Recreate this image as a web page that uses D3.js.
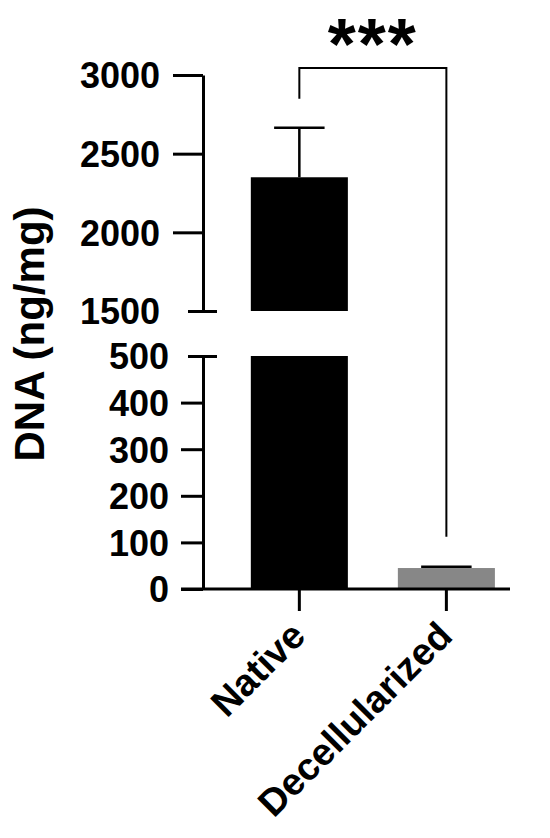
<!DOCTYPE html>
<html>
<head>
<meta charset="utf-8">
<script src="https://cdn.jsdelivr.net/npm/d3@7"></script>
<style>
  body { margin: 0; background: #fff; }
  text { font-family: 'Liberation Sans', Arial, sans-serif; font-weight: bold; }
</style>
</head>
<body>
<script>

var categories = ['Native', 'Decellularized'];
var means = [2350, 45];
var sds = [315, 3];
var barColors = ['#000000', '#878787'];
var topTicks = [1500, 2000, 2500, 3000];
var bottomTicks = [0, 100, 200, 300, 400, 500];
var yTitle = 'DNA (ng/mg)';
var sigLabel = '***';

var width = 550,
    height = 838;

var svg = d3.select('body')
  .append('svg')
  .attr('width', width)
  .attr('height', height);

var axisX = 203;

var x = d3.scaleBand()
  .domain(categories)
  .range([axisX, 510])
  .paddingInner(0.34)
  .paddingOuter(0.214)
  .align(0.76);

// broken axis: two linear pieces
var yTop = d3.scaleLinear().domain([1500, 3000]).range([311, 75]);
var yBot = d3.scaleLinear().domain([0, 500]).range([589, 356]);

function yPos(v) {
  return v > 500 ? yTop(v) : yBot(v);
}

var data = categories.map(function(c, i) {
  return { name: c, mean: means[i], sd: sds[i], color: barColors[i] };
});

// bars
var bars = svg.append('g');
data.forEach(function(d) {
  if (d.mean > 500) {
    bars.append('rect')
      .attr('x', x(d.name))
      .attr('width', x.bandwidth())
      .attr('y', yBot(500))
      .attr('height', yBot(0) - yBot(500))
      .attr('fill', d.color);
    bars.append('rect')
      .attr('x', x(d.name))
      .attr('width', x.bandwidth())
      .attr('y', yTop(d.mean))
      .attr('height', yTop(1500) - yTop(d.mean))
      .attr('fill', d.color);
  } else {
    bars.append('rect')
      .attr('x', x(d.name))
      .attr('width', x.bandwidth())
      .attr('y', yBot(d.mean))
      .attr('height', yBot(0) - yBot(d.mean))
      .attr('fill', d.color);
  }
});

// error bars (upper only)
var capHalf = x.bandwidth() * 0.26;
var err = svg.append('g').attr('stroke', '#000').attr('stroke-width', 2.5);
data.forEach(function(d) {
  var cx = x(d.name) + x.bandwidth() / 2;
  err.append('line')
    .attr('x1', cx).attr('x2', cx)
    .attr('y1', yPos(d.mean)).attr('y2', yPos(d.mean + d.sd));
  err.append('line')
    .attr('x1', cx - capHalf).attr('x2', cx + capHalf)
    .attr('y1', yPos(d.mean + d.sd)).attr('y2', yPos(d.mean + d.sd));
});

// y axes
var fmt = d3.format('d');
var gTop = svg.append('g')
  .attr('transform', 'translate(' + axisX + ',0)')
  .call(d3.axisLeft(yTop).tickValues(topTicks).tickFormat(fmt)
    .tickSize(30).tickSizeOuter(0).tickPadding(13));

var gBot = svg.append('g')
  .attr('transform', 'translate(' + axisX + ',0)')
  .call(d3.axisLeft(yBot).tickValues(bottomTicks).tickFormat(fmt)
    .tickSize(22).tickSizeOuter(0).tickPadding(12));

// break caps
gTop.selectAll('.tick line').filter(function(d) { return d === 1500; })
  .attr('x1', 14).attr('x2', -15);
gBot.selectAll('.tick line').filter(function(d) { return d === 500; })
  .attr('x1', 14).attr('x2', -15);

[gTop, gBot].forEach(function(g) {
  g.select('.domain').attr('stroke-width', 3);
  g.selectAll('.tick line').attr('stroke-width', 3);
  g.selectAll('.tick text')
    .style('font-size', '36px')
    .style('font-weight', 'bold')
    .attr('fill', '#000')
    .attr('dy', '0.36em');
});

// x axis
var gX = svg.append('g')
  .attr('transform', 'translate(0,' + yBot(0) + ')')
  .call(d3.axisBottom(x).tickSize(22).tickSizeOuter(0).tickPadding(0));

gX.select('.domain').remove();
gX.append('line')
  .attr('x1', axisX - 22).attr('x2', x.range()[1])
  .attr('stroke', '#000')
  .attr('stroke-width', 3);
gX.selectAll('.tick line').attr('stroke-width', 3);
gX.selectAll('.tick text')
  .style('font-size', '38px')
  .style('font-weight', 'bold')
  .attr('fill', '#000')
  .attr('text-anchor', 'end')
  .attr('dy', null)
  .attr('y', 0)
  .attr('transform', 'translate(8,49) rotate(-45)');

// y title
svg.append('text')
  .attr('transform', 'translate(44,334) rotate(-90)')
  .attr('text-anchor', 'middle')
  .style('font-size', '42px')
  .text(yTitle);

// significance bracket
var x1 = x(categories[0]) + x.bandwidth() / 2,
    x2 = x(categories[1]) + x.bandwidth() / 2,
    yb = yTop(3045);
svg.append('path')
  .attr('d', 'M' + x1 + ',' + (yPos(means[0] + sds[0]) - 29) +
             'V' + yb + 'H' + x2 + 'V' + (yPos(means[1] + sds[1]) - 30))
  .attr('fill', 'none')
  .attr('stroke', '#000')
  .attr('stroke-width', 2);

svg.append('text')
  .attr('x', (x1 + x2) / 2)
  .attr('y', 69)
  .attr('text-anchor', 'middle')
  .style('font-size', '72px')
  .style('letter-spacing', '2px')
  .text(sigLabel);

</script>
</body>
</html>
